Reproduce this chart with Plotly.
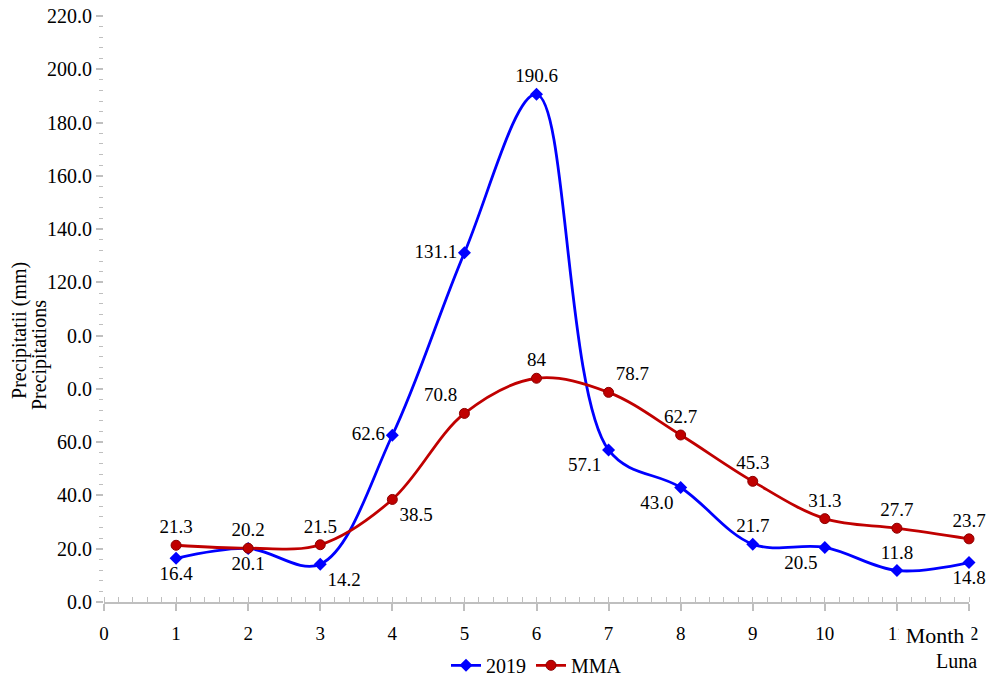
import plotly.graph_objects as go

months = [1, 2, 3, 4, 5, 6, 7, 8, 9, 10, 11, 12]
y2019 = [16.4, 20.1, 14.2, 62.6, 131.1, 190.6, 57.1, 43.0, 21.7, 20.5, 11.8, 14.8]
mma = [21.3, 20.2, 21.5, 38.5, 70.8, 84, 78.7, 62.7, 45.3, 31.3, 27.7, 23.7]
labels2019 = ["16.4", "20.1", "14.2", "62.6", "131.1", "190.6", "57.1", "43.0", "21.7", "20.5", "11.8", "14.8"]
labelsmma = ["21.3", "20.2", "21.5", "38.5", "70.8", "84", "78.7", "62.7", "45.3", "31.3", "27.7", "23.7"]
pos2019 = ["bottom center", "bottom center", "bottom right", "middle left", "middle left", "top center",
           "bottom left", "bottom left", "top center", "bottom left", "top center", "bottom center"]
posmma = ["top center", "top center", "top center", "bottom right", "top left", "top center",
          "top right", "top center", "top center", "top center", "top center", "top center"]
xtick_vals = list(range(0, 13))
xtick_text = [str(v) for v in xtick_vals]
ytick_vals = list(range(0, 221, 20))
ytick_text = ["0.0", "20.0", "40.0", "60.0", "0.0", "0.0", "120.0", "140.0", "160.0", "180.0", "200.0", "220.0"]

FONT = "Liberation Serif"
BLUE = "#0000FF"
RED = "#C00000"

fig = go.Figure()
fig.add_trace(go.Scatter(
    x=months, y=y2019, name="2019", mode="lines+markers+text", cliponaxis=False,
    line=dict(color=BLUE, width=2.8, shape="spline", smoothing=1.0),
    marker=dict(symbol="diamond", size=10, color=BLUE),
    text=labels2019, textposition=pos2019,
    textfont=dict(family=FONT, size=19, color="black"),
))
fig.add_trace(go.Scatter(
    x=months, y=mma, name="MMA", mode="lines+markers+text", cliponaxis=False,
    line=dict(color=RED, width=2.8, shape="spline", smoothing=1.0),
    marker=dict(symbol="circle", size=10, color=RED, line=dict(color="#8B0000", width=1)),
    text=labelsmma, textposition=posmma,
    textfont=dict(family=FONT, size=19, color="black"),
))

fig.update_layout(
    width=992, height=677,
    margin=dict(l=104, r=23, t=16, b=75, autoexpand=False),
    plot_bgcolor="white", paper_bgcolor="white",
    font=dict(family=FONT, size=19, color="black"),
    showlegend=True,
    legend=dict(orientation="h", x=0.5, xanchor="center", y=-0.108, yanchor="middle",
                font=dict(family=FONT, size=20, color="black")),
    xaxis=dict(
        range=[0, 12], tickvals=xtick_vals, ticktext=xtick_text, automargin=False,
        showgrid=False, zeroline=False, showline=True, linecolor="#BFBFBF", linewidth=1.5,
        ticks="outside", ticklen=7, tickcolor="#BFBFBF", tickwidth=1.5,
        minor=dict(dtick=0.2, ticks="inside", ticklen=5, tickcolor="#BFBFBF", tickwidth=1),
        tickfont=dict(family=FONT, size=19, color="black"),
        ticklabelstandoff=6,
    ),
    yaxis=dict(
        range=[0, 220], tickvals=ytick_vals, ticktext=ytick_text, automargin=False,
        showgrid=False, zeroline=False, showline=False,
        ticks="outside", ticklen=7, tickcolor="#BFBFBF", tickwidth=1.5,
        minor=dict(dtick=4, ticks="outside", ticklen=4, tickcolor="#BFBFBF", tickwidth=1),
        tickfont=dict(family=FONT, size=20, color="black"),
        ticksuffix="  ",
    ),
    annotations=[
        dict(text="Precipitatii (mm)", textangle=-90, xref="paper", yref="paper",
             x=-0.0971, y=0.4625, xanchor="center", yanchor="middle", showarrow=False,
             font=dict(family=FONT, size=20, color="black")),
        dict(text="Precipitations", textangle=-90, xref="paper", yref="paper",
             x=-0.0751, y=0.4215, xanchor="center", yanchor="middle", showarrow=False,
             font=dict(family=FONT, size=20, color="black")),
        dict(text="Month", xref="paper", yref="paper", x=0.961, y=-0.056, xanchor="center",
             yanchor="middle", showarrow=False, bgcolor="white", width=70, height=26,
             font=dict(family=FONT, size=22, color="black")),
        dict(text="Luna", xref="paper", yref="paper", x=0.986, y=-0.101, xanchor="center",
             yanchor="middle", showarrow=False,
             font=dict(family=FONT, size=20, color="black")),
    ],
)

fig.write_html("out.html", config={"displayModeBar": False},
               post_script="document.body.style.margin='0';")
